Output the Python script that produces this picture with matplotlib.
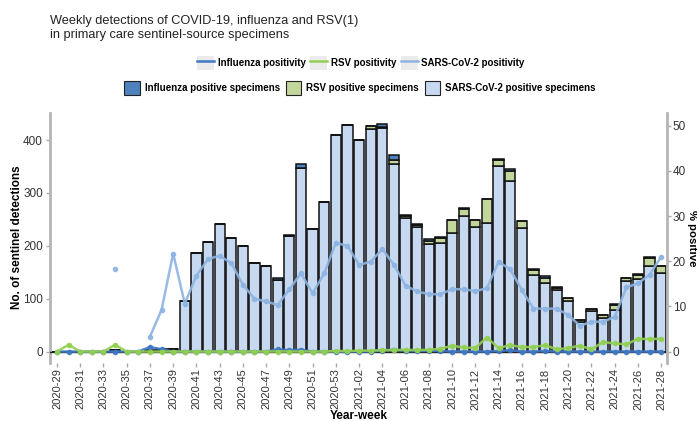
import matplotlib
matplotlib.use('Agg')

import numpy as np
import matplotlib.pyplot as plt
from matplotlib.lines import Line2D
from matplotlib.patches import Patch
from matplotlib.legend_handler import HandlerTuple

plt.rcParams['font.family'] = ['Liberation Sans', 'DejaVu Sans']

# year-week categories: 2020-29 .. 2020-53, 2021-01 .. 2021-28
weeks = ['2020-%02d' % w for w in range(29, 54)] + ['2021-%02d' % w for w in range(1, 29)]

# positive specimens (counts)
sars_pos = [0, 0, 0, 0, 0, 2, 0, 0, 1, 3, 5, 96, 187, 208, 241, 214, 200, 167, 161, 135,
            218, 348, 232, 282, 410, 428, 400, 420, 423, 355, 252, 235, 203, 206, 225, 257,
            236, 243, 351, 323, 233, 145, 129, 116, 96, 56, 77, 63, 79, 134, 137, 162, 149]
rsv_pos = [0, 0, 0, 0, 0, 0, 0, 0, 0, 0, 0, 0, 0, 0, 0, 0, 0, 0, 0, 0,
           0, 0, 0, 0, 0, 0, 0, 7, 2, 8, 5, 5, 7, 9, 23, 13,
           12, 45, 11, 18, 13, 10, 11, 5, 5, 3, 3, 6, 9, 5, 8, 15, 12]
flu_pos = [0, 0, 0, 0, 0, 0, 0, 0, 2, 1, 0, 0, 0, 0, 0, 0, 0, 0, 0, 4,
           3, 6, 0, 0, 0, 0, 0, 0, 5, 8, 2, 2, 3, 2, 0, 1,
           1, 1, 2, 5, 1, 1, 2, 1, 1, 1, 1, 0, 1, 1, 1, 1, 1]

# positivity (%)
nan = np.nan
sars_pct = [nan, nan, nan, nan, nan, 18.3, nan, nan, 3.3, 9.2, 21.7, 10.6, 16.8, 20.5, 21.2, 19.6,
            14.8, 11.7, 11.1, 10.3, 13.8, 17.3, 12.9, 17.3, 24.1, 23.4, 19.2, 19.9, 22.7, 19.2,
            14.6, 13.3, 12.7, 12.7, 13.8, 13.8, 13.4, 14.0, 19.9, 18.2, 13.7, 9.5, 9.5, 9.5,
            8.1, 5.7, 6.6, 6.6, 7.7, 14.2, 15.1, 17.0, 21.0]
rsv_pct = [0, 1.5, 0, 0, 0, 1.5, 0, 0, 0, 0, 0, 0, 0, 0, 0, 0, 0, 0, 0, 0,
           0, 0, 0, 0, 0.1, 0.1, 0.2, 0.2, 0.3, 0.3, 0.4, 0.3, 0.4, 0.6, 1.3, 0.9,
           0.8, 3.1, 0.8, 1.4, 1.0, 1.0, 1.4, 0.5, 0.8, 1.3, 0.5, 2.1, 1.8, 1.6, 2.8, 2.8, 2.8]
flu_pct = [0, 0, 0, 0, 0, 0, 0, 0, 1.0, 0.5, 0, 0, 0, 0, 0, 0, 0, 0, 0, 0.5,
           0.3, 0.4, 0, 0, 0, 0, 0, 0, 0.2, 0.4, 0.1, 0.1, 0.2, 0.1, 0, 0,
           0, 0, 0.1, 0.3, 0, 0, 0.1, 0, 0, 0, 0, 0, 0, 0, 0, 0, 0]

c_sars_fill = '#c6d9f0'
c_rsv_fill = '#c3d69b'
c_flu_fill = '#4f81bd'
c_sars_line = '#8db4e2'
c_rsv_line = '#92d050'
c_flu_line = '#3f78c4'

x = np.arange(len(weeks))
sars = np.array(sars_pos)
rsv = np.array(rsv_pos)
flu = np.array(flu_pos)

fig = plt.figure(figsize=(6.97, 4.21), dpi=100)
ax = fig.add_axes([0.0717, 0.138, 0.8853, 0.594])
ax2 = ax.twinx()

bw = 0.88
ax.bar(x, sars, bw, color=c_sars_fill, edgecolor='#111111', linewidth=1.1)
ax.bar(x, rsv, bw, bottom=sars, color=c_rsv_fill, edgecolor='#111111', linewidth=1.1)
ax.bar(x, flu, bw, bottom=sars + rsv, color=c_flu_fill, edgecolor='#111111', linewidth=1.1)
ax.axhline(0, color='#222222', lw=1.0, zorder=3)

ax2.plot(x, flu_pct, color=c_flu_line, lw=1.8, marker='o', ms=3, alpha=0.9)
ax2.plot(x, rsv_pct, color=c_rsv_line, lw=1.8, marker='o', ms=3, alpha=0.9)
ax2.plot(x, sars_pct, color=c_sars_line, lw=1.8, marker='o', ms=3, alpha=0.9)

ylo, yhi = -21.5, 451.5
ax.set_ylim(ylo, yhi)
ax2.set_ylim(ylo / 8.54, yhi / 8.54)
ax.set_xlim(-0.6, 52.5)

ax.set_yticks([0, 100, 200, 300, 400])
ax2.set_yticks([0, 10, 20, 30, 40, 50])
ax.set_xticks(x[::2])
ax.set_xticklabels(weeks[::2], rotation=90)

for a in (ax, ax2):
    for s in a.spines.values():
        s.set_visible(False)
    a.tick_params(colors='#aaaaaa', labelcolor='#333333', labelsize=8.5, length=3, width=1, pad=2)
ax.spines['left'].set_visible(True)
ax.spines['left'].set_color('#b5b5b5')
ax.spines['left'].set_linewidth(2)
ax2.spines['right'].set_visible(True)
ax2.spines['right'].set_color('#b5b5b5')
ax2.spines['right'].set_linewidth(2)
ax2.tick_params(pad=1)
ax.tick_params(axis='x', labelsize=8, pad=1)

ax.set_xlabel('Year-week', fontsize=8.5, fontweight='bold', labelpad=0)
fig.text(17 / 697, 1 - 237 / 421, 'No. of sentinel detections', fontsize=8.5, fontweight='bold',
         rotation=90, ha='center', va='center')
fig.text(692 / 697, 1 - 238 / 421, '% positive', fontsize=8.2, fontweight='bold',
         rotation=270, ha='center', va='center')

fig.text(0.072, 0.965, 'Weekly detections of COVID-19, influenza and RSV(1)\nin primary care sentinel-source specimens',
         fontsize=9.2, va='top', ha='left', color='#222222', linespacing=1.25)

leg_font = {'weight': 'bold', 'size': 7, 'family': ['Liberation Sans Narrow', 'Liberation Sans']}
bg = dict(facecolor='#ebebeb', edgecolor='none')
line_handles = [
    (Patch(**bg), Line2D([], [], color=c_flu_line, lw=1.8)),
    (Patch(**bg), Line2D([], [], color=c_rsv_line, lw=1.8)),
    (Patch(**bg), Line2D([], [], color=c_sars_line, lw=1.8)),
]
fig.legend(line_handles, ['Influenza positivity', 'RSV positivity', 'SARS-CoV-2 positivity'],
           handler_map={tuple: HandlerTuple(ndivide=1)}, ncol=3, frameon=False,
           loc='center', bbox_to_anchor=(361 / 697, 1 - 63 / 421), prop=leg_font,
           handlelength=1.7, handleheight=1.7, handletextpad=0.4, columnspacing=0.5)
fill_handles = [
    Patch(facecolor=c_flu_fill, edgecolor='#222222', lw=0.8),
    Patch(facecolor=c_rsv_fill, edgecolor='#222222', lw=0.8),
    Patch(facecolor=c_sars_fill, edgecolor='#222222', lw=0.8),
]
fig.legend(fill_handles, ['Influenza positive specimens', 'RSV positive specimens', 'SARS-CoV-2 positive specimens'],
           ncol=3, frameon=False, loc='center', bbox_to_anchor=(360 / 697, 1 - 88 / 421), prop=leg_font,
           handlelength=1.6, handleheight=1.7, handletextpad=0.5, columnspacing=0.6)

plt.savefig('out.png', dpi=100)
